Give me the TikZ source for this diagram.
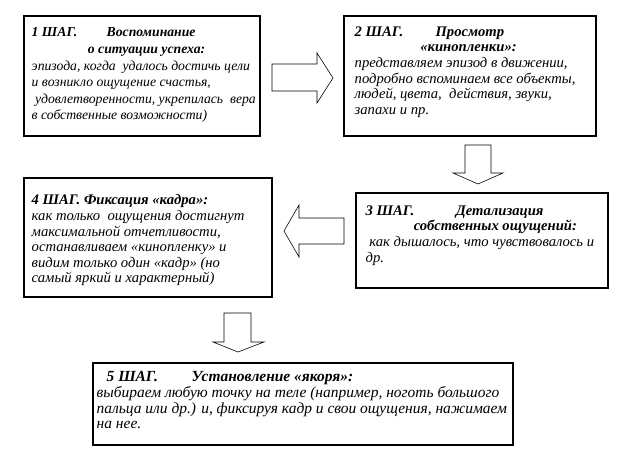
\documentclass[tikz,border=0pt]{standalone}
\usepackage{fontspec}
\setmainfont{Liberation Serif}[ItalicFont={Liberation Serif Italic},
    BoldItalicFont={Liberation Serif Bold Italic}]
\usetikzlibrary{fit}

\begin{document}
\begin{tikzpicture}[x=0.03cm,y=-0.03cm,
            frame/.style={draw,line width=0.9pt,inner sep=0pt},
            steptext/.style={anchor=north west,inner sep=0pt,align=left,
                font=\fontsize{12.5}{13.3}\selectfont\itshape},
            blockarrow/.style={draw,line width=0.5pt,fill=white}]
            \useasboundingbox (0,0) rectangle (629,460);

            \node[frame,fit={(24,16) (260,136)}] (s1) {};
            \node[frame,fit={(344,16) (596,136)}] (s2) {};
            \node[frame,fit={(356,193) (608,288)}] (s3) {};
            \node[frame,fit={(24,178) (272,297)}] (s4) {};
            \node[frame,fit={(93,363) (513,445)}] (s5) {};

            \node[steptext,font=\fontsize{11.7}{14.2}\selectfont\itshape] (t1)
                at ([shift={(8,12)}]s1.north west)
                {{\bfseries\makebox[64pt][l]{1 ШАГ.}Воспоминание}\\
                 \hspace*{48pt}{\bfseries о ситуации успеха:}\\
                 эпизода, когда\ \ удалось достичь цели\\
                 и возникло ощущение счастья,\\
                 \ удовлетворенности,\ укрепилась\ \ вера\\
                 в собственные возможности)};
            \node[steptext] (t2) at ([shift={(11,11)}]s2.north west)
                {{\bfseries\makebox[69pt][l]{2 ШАГ.}Просмотр}\\
                 \hspace*{56pt}{\bfseries «кинопленки»:}\\
                 представляем эпизод в движении,\\
                 подробно вспоминаем все объекты,\\
                 людей, цвета,\ \ действия, звуки,\\
                 запахи и пр.};
            \node[steptext] (t3) at ([shift={(10,13)}]s3.north west)
                {{\bfseries\makebox[77pt][l]{3 ШАГ.}Детализация}\\
                 \hspace*{41pt}{\bfseries собственных ощущений:}\\
                 \ как дышалось, что чувствовалось и\\
                 др.};
            \node[steptext] (t4) at ([shift={(8,17)}]s4.north west)
                {{\bfseries 4 ШАГ. Фиксация «кадра»:}\\
                 как только\ \ ощущения достигнут\\
                 максимальной отчетливости,\\
                 останавливаем «кинопленку» и\\
                 видим только один «кадр» (но\\
                 самый яркий и характерный)};
            \node[steptext,font=\fontsize{13.2}{13.3}\selectfont\itshape] (t5)
                at ([shift={(4,9)}]s5.north west)
                {\hspace*{8.5pt}{\bfseries\makebox[72.5pt][l]{5 ШАГ.}Установление «якоря»:}\\
                 выбираем любую точку на теле (например, ноготь большого\\
                 пальца или др.) и, фиксируя кадр и свои ощущения, нажимаем\\
                 на нее.};

            % block arrows between the steps
            \draw[blockarrow] (272,64) -- (317,64) -- (317,53) -- (333,78)
                -- (317,103) -- (317,91) -- (272,91) -- cycle;
            \draw[blockarrow] (465,145) -- (465,173) -- (453,173) -- (478,184)
                -- (503,173) -- (491,173) -- (491,145) -- cycle;
            \draw[blockarrow] (344,218) -- (299,218) -- (299,205) -- (284,231)
                -- (299,257) -- (299,244) -- (344,244) -- cycle;
            \draw[blockarrow] (224,313) -- (224,342) -- (213,342) -- (238,352)
                -- (264,342) -- (251,342) -- (251,313) -- cycle;
\end{tikzpicture}
\end{document}
